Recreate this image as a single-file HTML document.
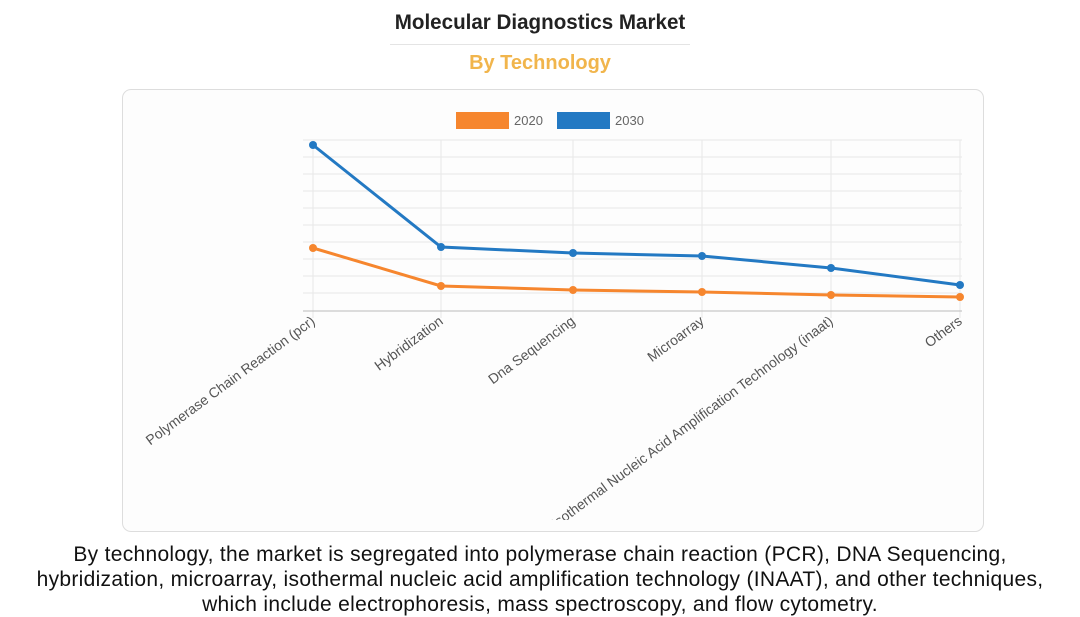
<!DOCTYPE html>
<html><head><style>
body{margin:0;width:1080px;height:616px;background:#fff;font-family:"Liberation Sans",sans-serif;overflow:hidden;position:relative}
.t{position:absolute;left:0;width:1080px;text-align:center}
</style></head><body>
<div class="t" style="top:11px;font-size:21px;color:#222;font-weight:bold;transform:scaleX(0.98)">Molecular Diagnostics Market</div>
<div style="position:absolute;left:390px;top:44px;width:300px;height:1px;background:#e4e4e4"></div>
<div class="t" style="top:52px;font-size:20px;color:#f1b54c;font-weight:bold">By Technology</div>
<div style="position:absolute;left:122px;top:89px;width:860px;height:441px;border:1px solid #ddd;border-radius:9px;background:#fdfdfd;overflow:hidden"></div>
<svg width="1080" height="616" style="position:absolute;left:0;top:0">
<defs><clipPath id="c"><rect x="123" y="90" width="860" height="430" rx="8"/></clipPath></defs>
<rect x="456" y="112" width="53" height="17" fill="#f6862e"/>
<text x="514" y="125" font-size="13" fill="#666" font-family="Liberation Sans">2020</text>
<rect x="557" y="112" width="53" height="17" fill="#2379c3"/>
<text x="615" y="125" font-size="13" fill="#666" font-family="Liberation Sans">2030</text>
<g stroke="#e8e8e8" stroke-width="1">
<line x1="303" y1="140" x2="962" y2="140"/><line x1="303" y1="157" x2="962" y2="157"/><line x1="303" y1="174" x2="962" y2="174"/><line x1="303" y1="191" x2="962" y2="191"/><line x1="303" y1="208" x2="962" y2="208"/><line x1="303" y1="225" x2="962" y2="225"/><line x1="303" y1="242" x2="962" y2="242"/><line x1="303" y1="259" x2="962" y2="259"/><line x1="303" y1="276" x2="962" y2="276"/><line x1="303" y1="293" x2="962" y2="293"/>
<line x1="313" y1="140" x2="313" y2="318"/><line x1="441" y1="140" x2="441" y2="318"/><line x1="573" y1="140" x2="573" y2="318"/><line x1="702" y1="140" x2="702" y2="318"/><line x1="831" y1="140" x2="831" y2="318"/><line x1="960" y1="140" x2="960" y2="318"/>
</g>
<line x1="303" y1="311" x2="962" y2="311" stroke="#bbb"/>
<polyline points="313,248 441,286 573,290 702,292 831,295 960,297" fill="none" stroke="#f6862e" stroke-width="3"/>
<polyline points="313,145 441,247 573,253 702,256 831,268 960,285" fill="none" stroke="#2379c3" stroke-width="3"/>
<g fill="#f6862e"><circle cx="313" cy="248" r="4"/><circle cx="441" cy="286" r="4"/><circle cx="573" cy="290" r="4"/><circle cx="702" cy="292" r="4"/><circle cx="831" cy="295" r="4"/><circle cx="960" cy="297" r="4"/></g>
<g fill="#2379c3"><circle cx="313" cy="145" r="4"/><circle cx="441" cy="247" r="4"/><circle cx="573" cy="253" r="4"/><circle cx="702" cy="256" r="4"/><circle cx="831" cy="268" r="4"/><circle cx="960" cy="285" r="4"/></g>
<g clip-path="url(#c)" font-size="14" fill="#555" font-family="Liberation Sans" text-anchor="end">
<text transform="translate(316,323) rotate(-36.5)">Polymerase Chain Reaction (pcr)</text>
<text transform="translate(444,323) rotate(-36.5)">Hybridization</text>
<text transform="translate(576,323) rotate(-36.5)">Dna Sequencing</text>
<text transform="translate(705,323) rotate(-36.5)">Microarray</text>
<text transform="translate(834,323) rotate(-36.5)">Isothermal Nucleic Acid Amplification Technology (inaat)</text>
<text transform="translate(963,323) rotate(-36.5)">Others</text>
</g>
</svg>
<div class="t" style="top:542px;font-size:21px;letter-spacing:0.3px;line-height:25px;color:#111">By technology, the market is segregated into polymerase chain reaction (PCR), DNA Sequencing,<br>hybridization, microarray, isothermal nucleic acid amplification technology (INAAT), and other techniques,<br>which include electrophoresis, mass spectroscopy, and flow cytometry.</div>
</body></html>
